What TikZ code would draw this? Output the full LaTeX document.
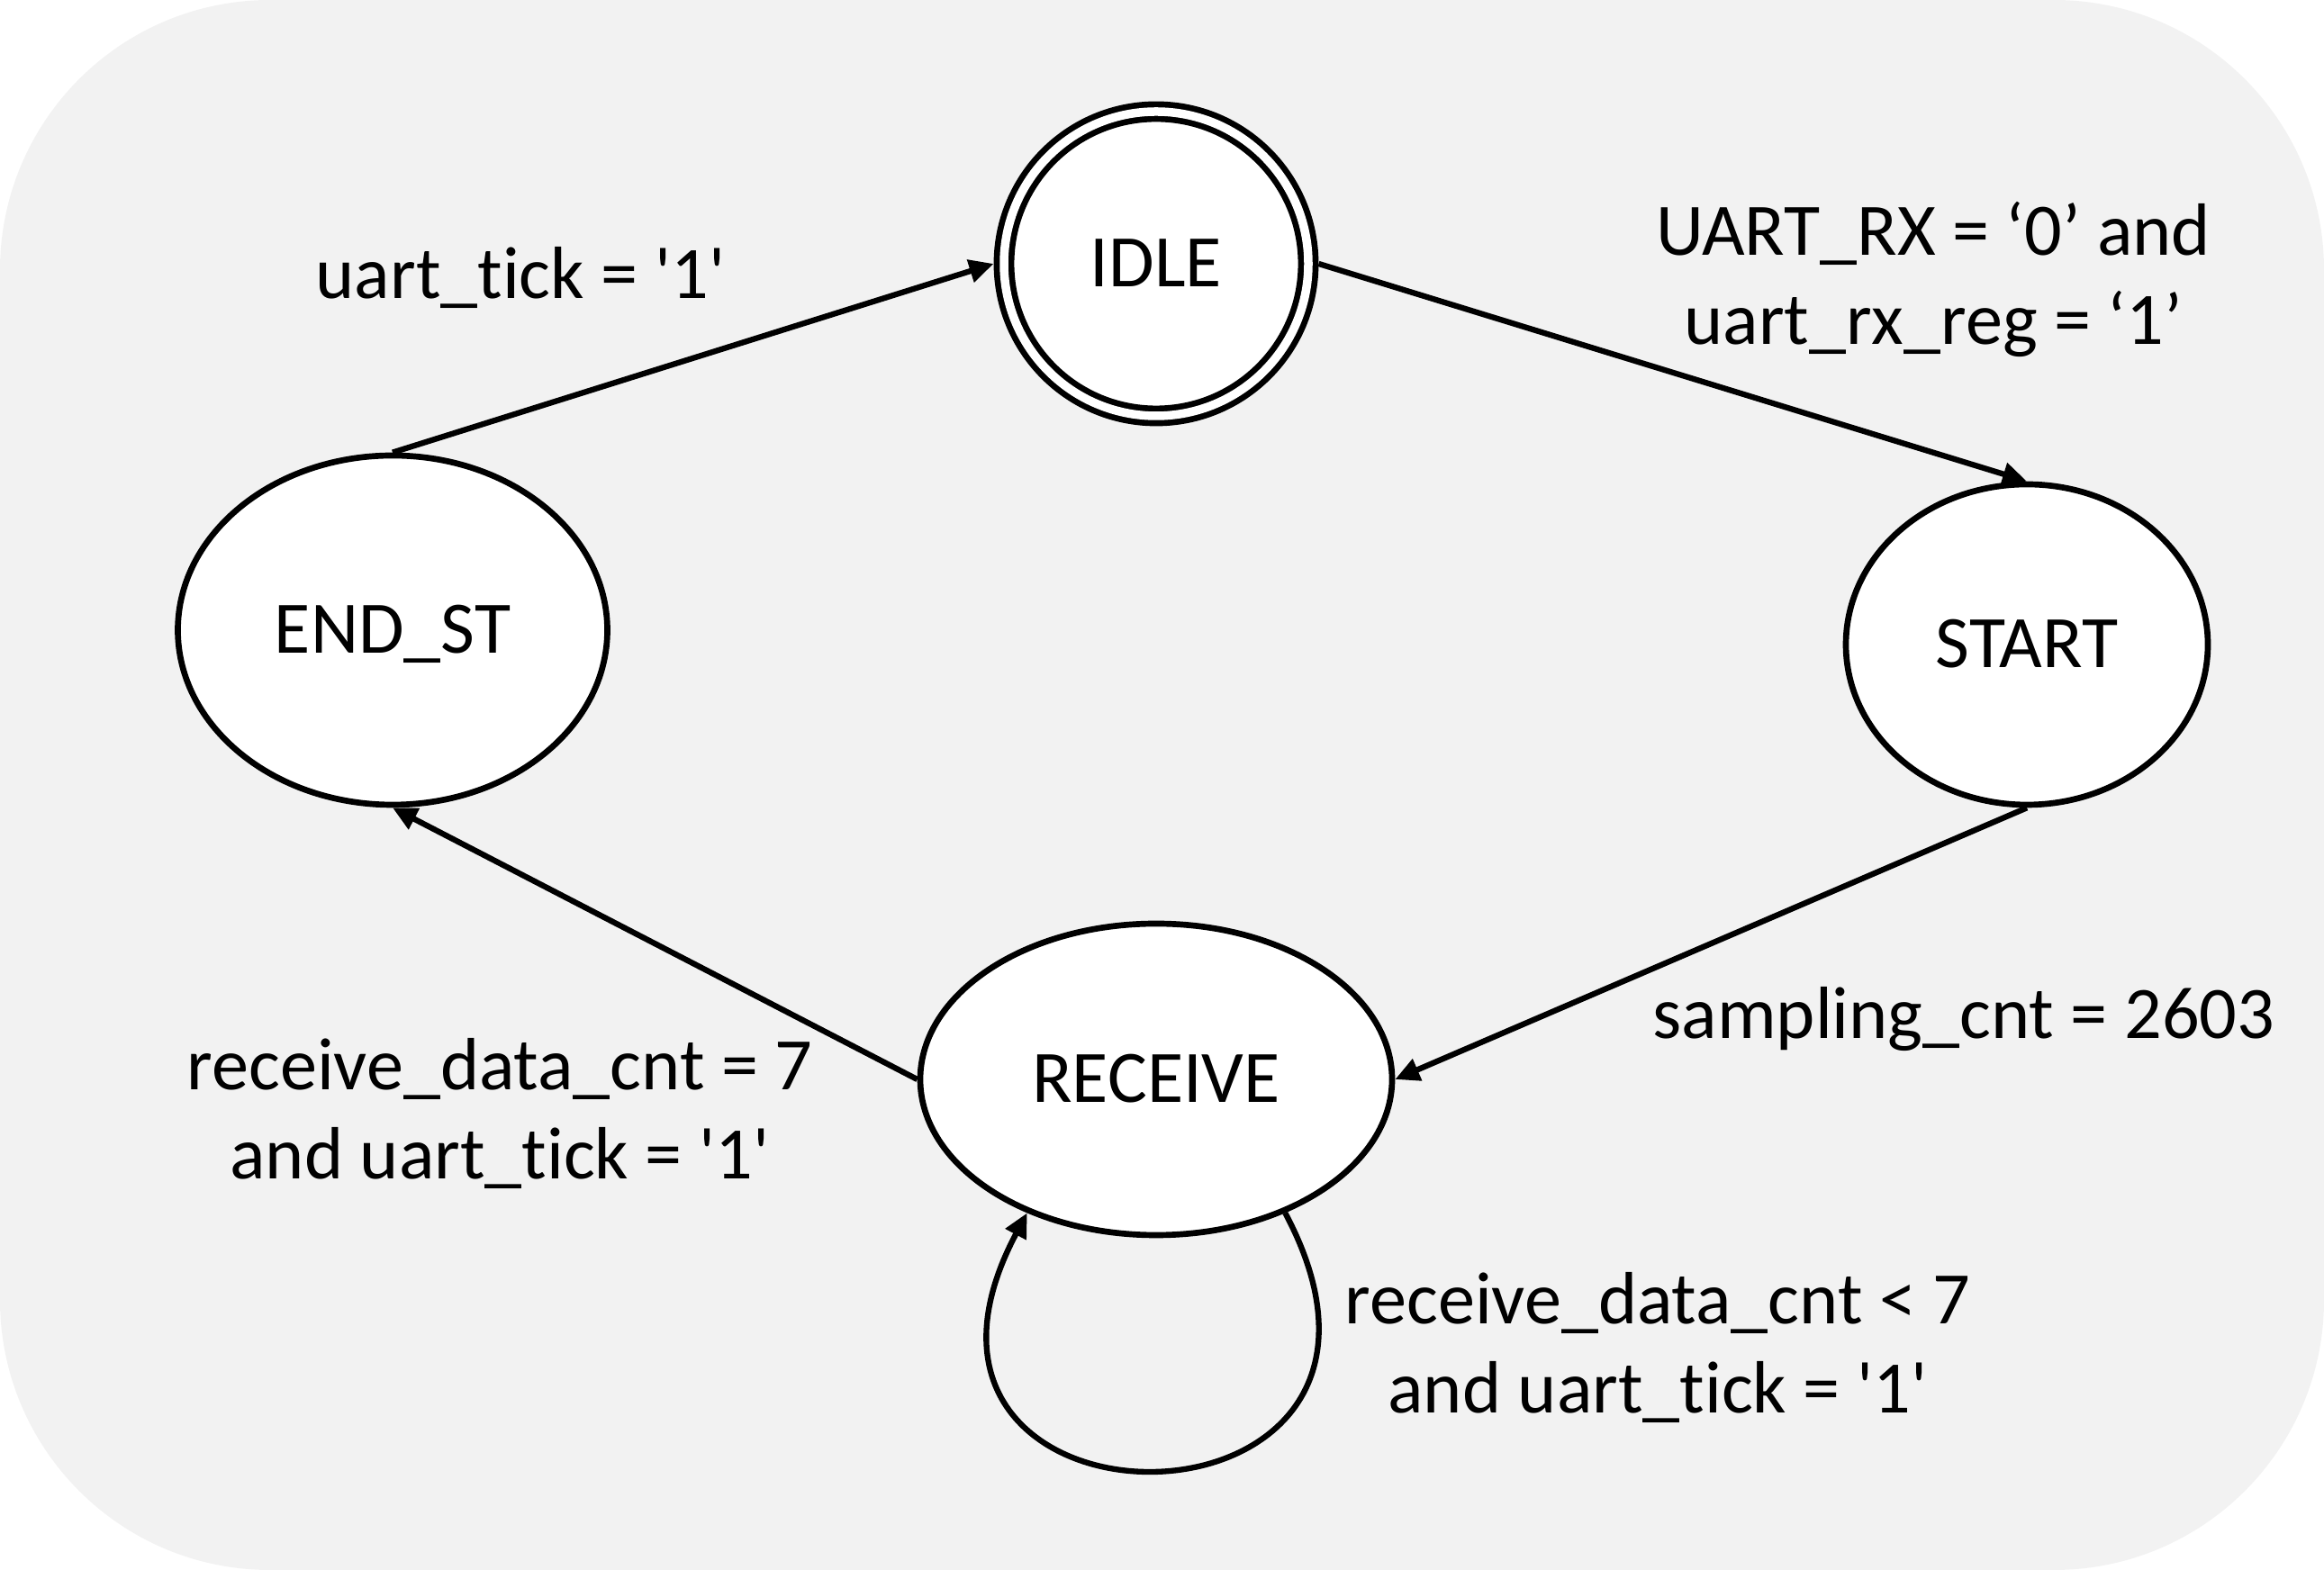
\documentclass[tikz,border=0pt]{standalone}
\usepackage{fontspec}
\setmainfont{Carlito}[Ligatures={TeX,NoCommon}]
\usepackage{tikz}
\usetikzlibrary{shapes.geometric,arrows.meta}
\definecolor{panel}{HTML}{F2F2F2}

\begin{document}
\begin{tikzpicture}[
  state/.style={ellipse,draw,fill=white,line width=1.9pt,inner sep=0pt,text height=0.52cm,text depth=0pt},
  accept/.style={circle,draw,fill=white,line width=1.9pt,double,double distance=0.095cm,inner sep=0pt,
    minimum size=3.38cm,outer sep=0.115cm,text height=0.52cm,text depth=0pt},
  trans/.style={line width=1.8pt,-{Triangle[length=0.27cm,width=0.25cm]}},
  cond/.style={align=center},
  every node/.style={font=\fontsize{23.4}{28.2}\selectfont}]

\useasboundingbox (0,0) rectangle (25.81,17.44);
\fill[panel, rounded corners=3cm] (0,0) rectangle (25.81,17.44);

\node[accept] (idle) at (12.84,14.51) {IDLE};
\node[state, minimum width=4.02cm, minimum height=3.56cm] (start) at (22.51,10.28) {START};
\node[state, minimum width=5.24cm, minimum height=3.46cm] (recv) at (12.84,5.45) {RECEIVE};
\node[state, minimum width=4.77cm, minimum height=3.88cm] (endst) at (4.36,10.44) {END\_ST};

\draw[trans] (endst.north) -- (idle.west);
\draw[trans] (idle.east) -- (start.north);
\draw[trans] (start.south) -- (recv.east);
\draw[trans] (recv.west) -- (endst.south);
% self loop under RECEIVE
\draw[trans] (recv.-46) .. controls +(-62:4.3) and +(-118:4.3) .. (recv.-134);

\node[cond] (c-tick) at (5.78,14.36) {uart\_tick = \textquotesingle1\textquotesingle};
\node[cond] (c-rx) at (21.47,14.34) {UART\_RX = ‘0’ and\\ uart\_rx\_reg = ‘1’};
\node[cond] (c-samp) at (21.81,6.12) {sampling\_cnt = 2603};
\node[cond] (c-last) at (5.55,5.07) {receive\_data\_cnt = 7\\and uart\_tick = \textquotesingle1\textquotesingle};
\node[cond] (c-loop) at (18.41,2.47) {receive\_data\_cnt < 7\\and uart\_tick = \textquotesingle1\textquotesingle};

\end{tikzpicture}
\end{document}
